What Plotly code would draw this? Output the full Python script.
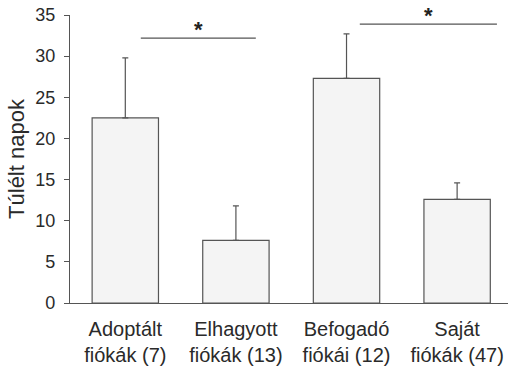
import plotly.graph_objects as go

categories = ["Adoptált<br>fiókák (7)", "Elhagyott<br>fiókák (13)", "Befogadó<br>fiókái (12)", "Saját<br>fiókák (47)"]
values = [22.5, 7.6, 27.3, 12.6]
errors_up = [7.3, 4.2, 5.4, 2.0]
y_ticks = [0, 5, 10, 15, 20, 25, 30, 35]
sig_pairs = [(0.14, 1.18, 32.2), (2.12, 3.36, 33.9)]

txt = "#2a2a2a"
fam = "Liberation Sans, Arial, sans-serif"
tick_font = dict(family=fam, size=18, color=txt)
cat_font = dict(family=fam, size=20, color=txt)
title_font = dict(family=fam, size=22, color=txt)

fig = go.Figure()
fig.add_trace(go.Bar(
    x=list(range(len(values))), y=values, width=0.6,
    marker=dict(color="#f4f4f4", line=dict(color="#555555", width=1.2)),
    error_y=dict(type="data", array=errors_up, arrayminus=[0]*4, symmetric=False,
                 color="#555555", thickness=1.2, width=3),
    showlegend=False,
))

for x0, x1, yv in sig_pairs:
    fig.add_trace(go.Scatter(x=[x0, x1], y=[yv, yv], mode="lines",
                             line=dict(color="#555555", width=1.2),
                             showlegend=False, hoverinfo="skip"))
    fig.add_annotation(x=(x0 + x1) / 2, y=yv, text="<b>*</b>", showarrow=False,
                       yanchor="middle", yshift=9,
                       font=dict(family=fam, size=22, color="#222222"))

fig.update_layout(
    width=509, height=369,
    margin=dict(l=70, r=1, t=15, b=66),
    paper_bgcolor="white", plot_bgcolor="white",
    font=tick_font,
    bargap=0.4,
)
fig.update_xaxes(range=[-0.5, 3.46], tickvals=list(range(4)), ticktext=categories,
                 showline=True, linecolor="#555555", linewidth=1.2, ticks="",
                 showgrid=False, zeroline=False, tickfont=cat_font,
                 automargin=False, ticklabelstandoff=8)
fig.update_yaxes(range=[0, 35], tickvals=y_ticks, showline=True, linecolor="#555555",
                 linewidth=1.2, ticks="outside", ticklen=5, tickcolor="#555555",
                 showgrid=False, zeroline=False, tickfont=tick_font,
                 automargin=False, ticklabelstandoff=5,
                 title=dict(text="Túlélt napok", font=title_font, standoff=4))

fig.write_html("out.html", config={"displayModeBar": False},
               post_script="document.body.style.margin='0';")
